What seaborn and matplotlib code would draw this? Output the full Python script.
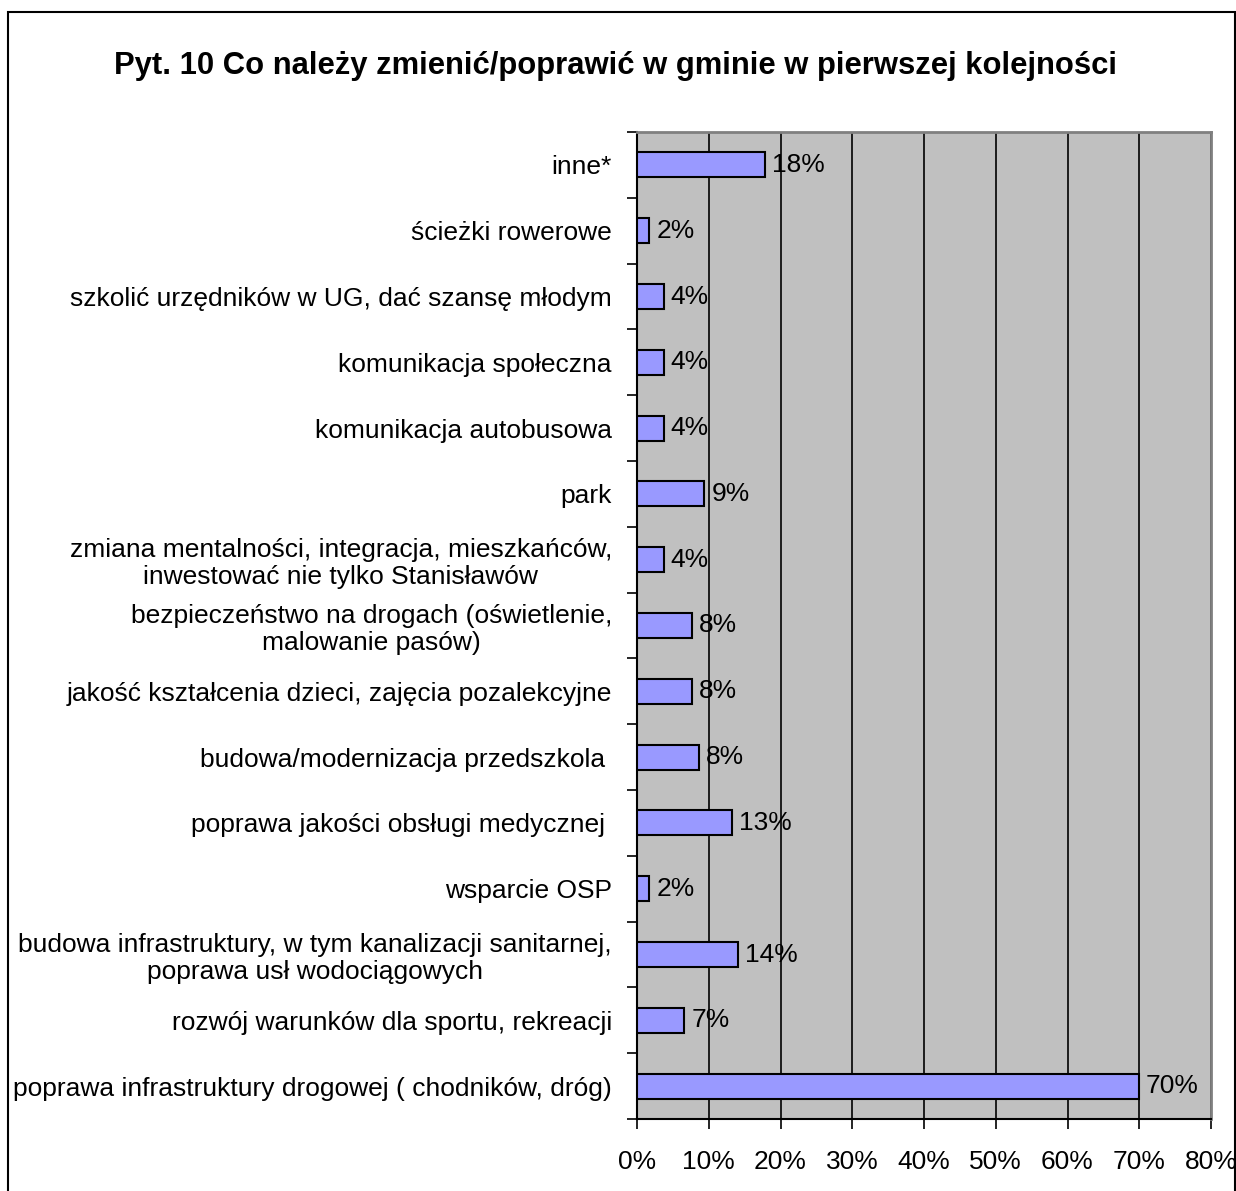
import matplotlib
matplotlib.use('Agg')
import matplotlib.pyplot as plt
from matplotlib.patches import Rectangle
from matplotlib.ticker import FixedLocator
import seaborn as sns

# data (top row first)
categories = [
    'inne*',
    'ścieżki rowerowe',
    'szkolić urzędników w UG, dać szansę młodym',
    'komunikacja społeczna',
    'komunikacja autobusowa',
    'park',
    'zmiana mentalności, integracja, mieszkańców,\ninwestować nie tylko Stanisławów',
    'bezpieczeństwo na drogach (oświetlenie,\nmalowanie pasów)',
    'jakość kształcenia dzieci, zajęcia pozalekcyjne',
    'budowa/modernizacja przedszkola ',
    'poprawa jakości obsługi medycznej ',
    'wsparcie OSP',
    'budowa infrastruktury, w tym kanalizacji sanitarnej,\npoprawa usł wodociągowych',
    'rozwój warunków dla sportu, rekreacji',
    'poprawa infrastruktury drogowej ( chodników, dróg)',
]
values = [17.8, 1.7, 3.7, 3.7, 3.7, 9.4, 3.7, 7.6, 7.6, 8.6, 13.2, 1.7, 14.1, 6.6, 69.9]
value_labels = ['18%', '2%', '4%', '4%', '4%', '9%', '4%', '8%', '8%', '8%',
                '13%', '2%', '14%', '7%', '70%']
x_ticks = [0, 10, 20, 30, 40, 50, 60, 70, 80]
x_tick_labels = ['0%', '10%', '20%', '30%', '40%', '50%', '60%', '70%', '80%']
title = 'Pyt. 10 Co należy zmienić/poprawić w gminie w pierwszej kolejności'

sns.set_style('white')
plt.rcParams['font.family'] = ['Liberation Sans', 'DejaVu Sans']
plt.rcParams['text.color'] = 'black'
plt.rcParams['xtick.color'] = 'black'
plt.rcParams['ytick.color'] = 'black'

W, H = 1236, 1191
fs = 19
fig = plt.figure(figsize=(W / 100, H / 100), dpi=100)
ax = fig.add_axes([637 / W, 1 - 1119 / H, (1211 - 637) / W, (1119 - 132) / H])
ax.set_facecolor('#C0C0C0')

sns.barplot(x=values, y=categories, orient='h', color='#9999FF', saturation=1,
            edgecolor='black', linewidth=1.5, width=0.38, ax=ax, zorder=3)
ax.bar_label(ax.containers[0], labels=value_labels, padding=5, fontsize=fs, color='black')

ax.set_xlim(0, 80)
ax.set_ylim(len(categories) - 0.5, -0.5)
ax.set_xticks(x_ticks)
ax.set_xticklabels(x_tick_labels, fontsize=fs)
ax.set_xlabel('')
ax.set_ylabel('')
ax.grid(axis='x', color='black', linewidth=1.2, zorder=1)
ax.set_axisbelow(True)

ax.tick_params(axis='y', which='major', length=0, pad=18, labelsize=fs)
ax.yaxis.set_minor_locator(FixedLocator([i - 0.5 for i in range(len(categories) + 1)]))
ax.tick_params(axis='y', which='minor', length=7, width=1.2, direction='out', color='black', left=True)
ax.tick_params(axis='x', length=7, width=1.2, direction='out', color='black', pad=15, bottom=True)
for t in ax.get_yticklabels():
    t.set_multialignment('center')
    t.set_linespacing(1.15)

for side in ['left', 'bottom']:
    ax.spines[side].set_color('black')
    ax.spines[side].set_linewidth(1.5)
for side in ['top', 'right']:
    ax.spines[side].set_color('#808080')
    ax.spines[side].set_linewidth(2)

fig.text(616 / W, 1 - 66 / H, title, ha='center', va='center', fontsize=22.3, fontweight='bold')

fig.add_artist(Rectangle((8 / W, -0.02), (1235 - 8) / W, 1 - 12 / H + 0.02,
                         transform=fig.transFigure, fill=False, edgecolor='black', linewidth=1.5))

fig.savefig('out.png', dpi=100)
